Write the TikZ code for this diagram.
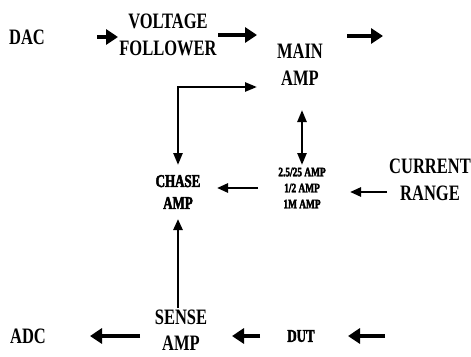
\documentclass[tikz,border=0pt]{standalone}
\usepackage{fontspec}
\setmainfont{Liberation Serif}[FakeStretch=0.75]
\newfontfamily\heavyFont{Liberation Serif}[FakeStretch=0.72, FakeBold=2.5]
\usetikzlibrary{arrows.meta,positioning}

\tikzset{
    bigLbl/.style={font=\bfseries\fontsize{22}{27}\selectfont, align=center, inner sep=0pt},
    smallLbl/.style={font=\heavyFont\bfseries\fontsize{18}{22}\selectfont, align=center, inner sep=0pt},
    tinyLbl/.style={font=\heavyFont\bfseries\fontsize{13}{16}\selectfont, align=center, inner sep=0pt},
    fatArrow/.style={line width=4.5pt, -{Triangle[length=12pt,width=15pt]}},
    slimArrow/.style={line width=2.5pt, -{Triangle[length=11pt,width=9pt]}},
    twoArrow/.style={line width=2.5pt, {Triangle[length=12pt,width=9pt]}-{Triangle[length=12pt,width=9pt]}}
}

\begin{document}
\begin{tikzpicture}[x=1pt,y=-1pt]
    \useasboundingbox (0,0) rectangle (471,356);

    \node[bigLbl] (dac) at (27,37) {DAC};
    \node[bigLbl] (follower) at (168,35) {VOLTAGE\\FOLLOWER};
    \node[bigLbl] (mainAmp) at (300,65) {MAIN\\AMP};
    \node[smallLbl] (chaseAmp) at (178,192) {CHASE\\AMP};
    \node[tinyLbl] (rangeAmp) at (302,188) {2.5/25 AMP\\1/2 AMP\\1M AMP};
    \node[bigLbl] (curRange) at (430,180) {CURRENT\\RANGE};
    \node[bigLbl] (adc) at (28,336) {ADC};
    \node[bigLbl, font=\bfseries\fontsize{22}{26}\selectfont] (senseAmp) at (181,330) {SENSE\\AMP};
    \node[smallLbl] (dut) at (301,336) {DUT};

    \coordinate (mainOut) at (383,36);
    \coordinate (bend) at (178,87);
    \coordinate (dutIn) at (385,336);

    \draw[fatArrow, shorten <=70pt, shorten >=50pt] (dac.center) -- (dac.center -| follower.center);
    \draw[fatArrow, shorten <=50pt, shorten >=43pt] (follower.center) -- (follower.center -| mainAmp.center);
    \draw[fatArrow, shorten <=47pt] (mainOut -| mainAmp.center) -- (mainOut);

    \draw[twoArrow, shorten <=27pt, shorten >=43pt] (chaseAmp.center) -- (bend) -- (bend -| mainAmp.center);
    \draw[twoArrow, shorten <=45pt, shorten >=23pt] (rangeAmp.center |- mainAmp.center) -- (rangeAmp.center);
    \draw[slimArrow, shorten <=44pt, shorten >=39pt] (rangeAmp.center) -- (rangeAmp.center -| chaseAmp.center);
    \draw[slimArrow, shorten <=43pt, shorten >=48pt] ([yshift=-12pt]curRange.center) -- ([yshift=-12pt]curRange.center -| rangeAmp.center);
    \draw[slimArrow, shorten <=22pt, shorten >=27pt] (chaseAmp.center |- senseAmp.center) -- (chaseAmp.center);

    \draw[fatArrow, shorten >=47pt] (dutIn) -- (dut.center);
    \draw[fatArrow, shorten <=41pt, shorten >=51pt] (dut.center) -- (dut.center -| senseAmp.center);
    \draw[fatArrow, shorten <=41pt, shorten >=62pt] (adc.center -| senseAmp.center) -- (adc.center);
\end{tikzpicture}
\end{document}
